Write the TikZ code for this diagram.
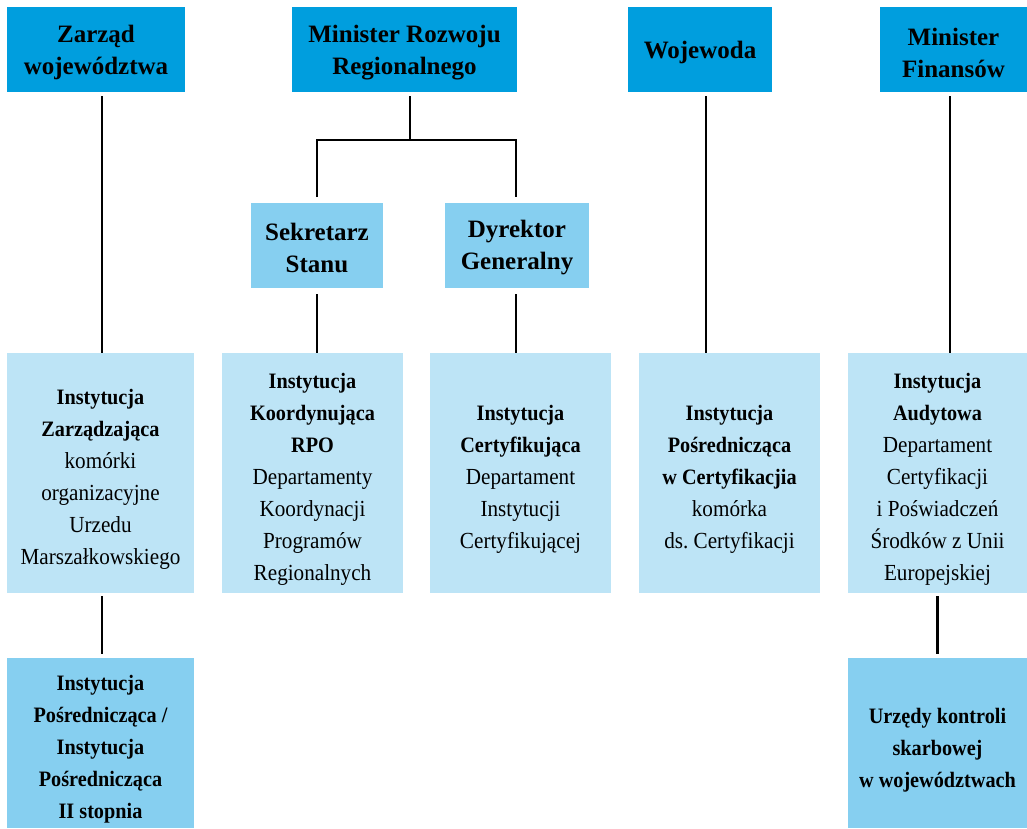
\documentclass[tikz,border=0pt]{standalone}
\usepackage{fontspec}
\setmainfont{Liberation Serif}
\newfontfamily\condf[FakeStretch=0.92]{Liberation Serif}
\frenchspacing
\definecolor{darkb}{RGB}{0,158,222}
\definecolor{midb}{RGB}{134,207,240}
\definecolor{lightb}{RGB}{189,228,246}
\newcommand\hdfont{\fontsize{25}{32}\selectfont\bfseries}
\newcommand\bdfont{\condf\fontsize{23}{32}\selectfont}
\newcommand\bb[1]{{\fontsize{22}{32}\selectfont\bfseries #1}}
\tikzset{
  box/.style={inner sep=0pt, outer sep=0pt, anchor=center},
  txt/.style={inner sep=0pt, outer sep=0pt, align=center, anchor=center},
  topbox/.style={box, fill=darkb, minimum height=85pt},
  midbox/.style={box, fill=midb, minimum height=85pt},
  infobox/.style={box, fill=lightb, minimum height=240pt},
  lowbox/.style={box, fill=midb, minimum height=170pt},
  hdtxt/.style={txt, font=\hdfont},
  bdtxt/.style={txt, font=\bdfont},
  conn/.style={line width=2.6pt, line join=miter, draw=black}
}
\begin{document}
\begin{tikzpicture}[x=1pt,y=-1pt]
\useasboundingbox (0,0) rectangle (1027,828);
% top row
\node[topbox, minimum width=178pt] (zw) at (96,49.5) {};
\node[hdtxt] (zwt) at ([yshift=-3pt]zw.center) {Zarząd\\województwa};
\node[topbox, minimum width=225pt] (mrr) at (404.5,49.5) {};
\node[hdtxt] (mrrt) at ([yshift=-3pt]mrr.center) {Minister Rozwoju\\Regionalnego};
\node[topbox, minimum width=144pt] (woj) at (700,49.5) {};
\node[hdtxt] (wojt) at ([yshift=-3pt]woj.center) {Wojewoda};
\node[topbox, minimum width=147pt] (mf) at (953.5,49.5) {};
\node[hdtxt] (mft) at ([yshift=-3pt]mf.center) {Minister\\Finansów};
% second row
\node[midbox, minimum width=132pt] (ss) at (317,245.5) {};
\node[hdtxt] (sst) at ([yshift=-2pt]ss.center) {Sekretarz\\Stanu};
\node[midbox, minimum width=144pt] (dg) at (517,245.5) {};
\node[hdtxt] (dgt) at ([yshift=-2pt]dg.center) {Dyrektor\\Generalny};
% third row
\node[infobox, minimum width=187pt] (b1) at (100.5,473) {};
\node[bdtxt] (b1t) at ([yshift=-6pt]b1.center) {\bb{Instytucja}\\\bb{Zarządzająca}\\komórki\\organizacyjne\\Urzedu\\Marszałkowskiego};
\node[infobox, minimum width=181pt] (b2) at (312.5,473) {};
\node[bdtxt] (b2t) at ([yshift=-6pt]b2.center) {\bb{Instytucja}\\\bb{Koordynująca}\\\bb{RPO}\\Departamenty\\Koordynacji\\Programów\\Regionalnych};
\node[infobox, minimum width=181pt] (b3) at (520.5,473) {};
\node[bdtxt] (b3t) at ([yshift=-6pt]b3.center) {\bb{Instytucja}\\\bb{Certyfikująca}\\Departament\\Instytucji\\Certyfikującej};
\node[infobox, minimum width=181pt] (b4) at (729.5,473) {};
\node[bdtxt] (b4t) at ([yshift=-6pt]b4.center) {\bb{Instytucja}\\\bb{Pośrednicząca}\\\bb{w Certyfikacjia}\\komórka\\ds. Certyfikacji};
\node[infobox, minimum width=179pt] (b5) at (937.5,473) {};
\node[bdtxt] (b5t) at ([yshift=-6pt]b5.center) {\bb{Instytucja}\\\bb{Audytowa}\\Departament\\Certyfikacji\\i Poświadczeń\\Środków z Unii\\Europejskiej};
% bottom row
\node[lowbox, minimum width=187pt] (c1) at (100.5,743) {};
\node[bdtxt] (c1t) at ([yshift=-6pt]c1.center) {\bb{Instytucja}\\\bb{Pośrednicząca /}\\\bb{Instytucja}\\\bb{Pośrednicząca}\\\bb{II stopnia}};
\node[lowbox, minimum width=179pt] (c5) at (937.5,743) {};
\node[bdtxt] (c5t) at ([yshift=-7pt]c5.center) {\bb{Urzędy kontroli}\\\bb{skarbowej}\\\bb{w województwach}};
% connectors
\coordinate (j) at (410,140);
\draw[conn, shorten <=4pt] ([xshift=6pt]zw.south) -- ([xshift=6pt]zw.south |- b1.north);
\draw[conn, shorten <=3pt, shorten >=4pt] ([xshift=1.5pt]b1.south) -- ([xshift=1.5pt]b1.south |- c1.north);
\draw[conn, shorten <=4pt] (mrr.south -| j) -- (j);
\draw[conn, shorten <=6pt, shorten >=6pt] (ss.north) -- (ss.north |- j) -- ([xshift=-1pt]dg.north |- j) -- ([xshift=-1pt]dg.north);
\draw[conn, shorten <=6pt] (ss.south) -- (ss.south |- b2.north);
\draw[conn, shorten <=6pt] ([xshift=-1pt]dg.south) -- ([xshift=-1pt]dg.south |- b3.north);
\draw[conn, shorten <=4pt] ([xshift=6pt]woj.south) -- ([xshift=6pt]woj.south |- b4.north);
\draw[conn, shorten <=4pt] ([xshift=-3.5pt]mf.south) -- ([xshift=-3.5pt]mf.south |- b5.north);
\draw[conn, shorten <=3pt, shorten >=4pt] (b5.south) -- (b5.south |- c5.north);
\end{tikzpicture}
\end{document}
